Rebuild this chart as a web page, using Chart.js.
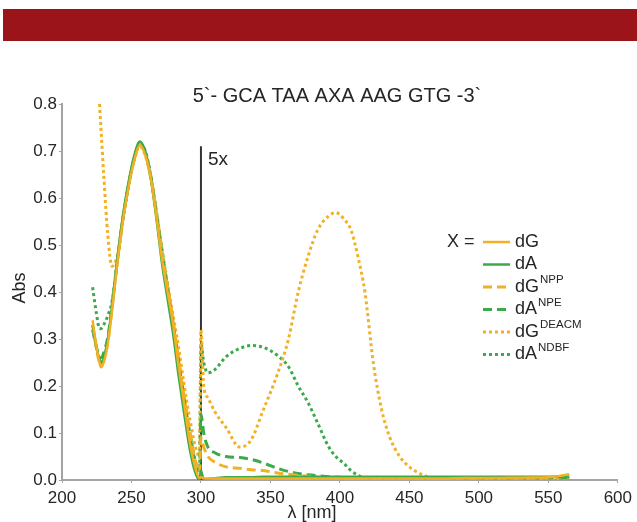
<!DOCTYPE html>
<html lang="en">
<head>
<meta charset="UTF-8">
<script src="https://cdn.jsdelivr.net/npm/chart.js@4.4.1/dist/chart.umd.min.js"></script>
<title>Abs spectra</title>
<style>
  html, body { margin: 0; padding: 0; background: #fff; }
  #band { position: absolute; left: 3px; top: 9px; width: 634px; height: 32px; background: #9b141a; }
  #wrap { position: absolute; left: 0; top: 0; width: 637px; height: 522px; }
</style>
</head>
<body>
<div id="band"></div>
<div id="wrap"><canvas id="myChart" width="637" height="522"></canvas></div>

<script>
// wavelengths (nm); values past 300 nm are shown 5x enlarged, as in the original
const wavelength = [222, 225, 227, 228, 230, 233, 236, 240,
  244, 248, 252, 256, 260, 264, 268, 272,
  276, 280, 284, 288, 292, 296, 299,
  300, 302, 305, 310, 318, 328, 336,
  345, 355, 363, 370, 377, 384, 392, 397,
  403, 408, 413, 418, 424, 430, 436, 443,
  450, 458, 466, 475, 490, 510, 530, 550, 565];

const absDG = [0.34, 0.28, 0.25, 0.24, 0.25, 0.29, 0.36, 0.465,
  0.555, 0.625, 0.68, 0.712, 0.69, 0.64, 0.56, 0.47,
  0.40, 0.33, 0.24, 0.16, 0.08, 0.025, 0.004,
  0.006, 0.004, 0.003, 0.003, 0.003, 0.003, 0.003,
  0.003, 0.003, 0.003, 0.003, 0.003, 0.003, 0.003, 0.003,
  0.003, 0.003, 0.003, 0.003, 0.003, 0.003, 0.003, 0.003,
  0.003, 0.003, 0.003, 0.003, 0.004, 0.004, 0.005, 0.006, 0.012];

const absDA = [0.33, 0.28, 0.257, 0.25, 0.26, 0.30, 0.37, 0.475,
  0.565, 0.635, 0.69, 0.72, 0.698, 0.64, 0.555, 0.46,
  0.385, 0.31, 0.22, 0.14, 0.065, 0.015, 0.0,
  0.02, 0.0, 0.002, 0.004, 0.006, 0.006, 0.006,
  0.007, 0.007, 0.007, 0.007, 0.007, 0.007, 0.007, 0.007,
  0.007, 0.007, 0.007, 0.007, 0.007, 0.007, 0.007, 0.007,
  0.007, 0.007, 0.007, 0.007, 0.007, 0.007, 0.007, 0.007, 0.007];

const absDGnpp = [0.33, 0.275, 0.25, 0.245, 0.255, 0.295, 0.365, 0.47,
  0.56, 0.63, 0.685, 0.715, 0.695, 0.645, 0.565, 0.48,
  0.41, 0.34, 0.255, 0.175, 0.1, 0.04, 0.015,
  0.09, 0.07, 0.05, 0.038, 0.028, 0.025, 0.022,
  0.02, 0.015, 0.012, 0.01, 0.008, 0.006, 0.005, 0.004,
  0.004, 0.004, 0.004, 0.004, 0.004, 0.004, 0.004, 0.004,
  0.004, 0.004, 0.004, 0.004, 0.004, 0.004, 0.004, 0.005, 0.008];

const absDAnpe = [0.32, 0.28, 0.262, 0.26, 0.27, 0.305, 0.37, 0.47,
  0.56, 0.63, 0.685, 0.715, 0.695, 0.645, 0.565, 0.48,
  0.405, 0.33, 0.25, 0.17, 0.095, 0.035, 0.012,
  0.14, 0.1, 0.07, 0.058, 0.05, 0.048, 0.044,
  0.036, 0.025, 0.018, 0.014, 0.011, 0.009, 0.007, 0.006,
  0.005, 0.005, 0.005, 0.005, 0.005, 0.005, 0.005, 0.005,
  0.005, 0.005, 0.005, 0.005, 0.005, 0.005, 0.005, 0.005, 0.005];

const absDGdeacm = [null, null, 0.8, 0.75, 0.65, 0.52, 0.455, 0.48,
  0.56, 0.63, 0.68, 0.71, 0.69, 0.64, 0.57, 0.49,
  0.42, 0.35, 0.28, 0.2, 0.13, 0.07, 0.05,
  0.32, 0.2, 0.175, 0.145, 0.112, 0.07, 0.085,
  0.15, 0.225, 0.3, 0.4, 0.475, 0.532, 0.562, 0.569,
  0.555, 0.532, 0.475, 0.40, 0.25, 0.15, 0.09, 0.05,
  0.028, 0.013, 0.005, 0.002, 0.002, 0.002, 0.002, 0.002, 0.002];

const absDAndbf = [0.41, 0.35, 0.322, 0.322, 0.33, 0.35, 0.38, 0.47,
  0.555, 0.625, 0.685, 0.715, 0.7, 0.645, 0.57, 0.49,
  0.41, 0.33, 0.25, 0.17, 0.1, 0.04, 0.02,
  0.29, 0.25, 0.228, 0.235, 0.262, 0.28, 0.286,
  0.282, 0.265, 0.241, 0.2, 0.165, 0.121, 0.07, 0.05,
  0.035, 0.02, 0.01, 0.004, 0.003, 0.003, 0.003, 0.003,
  0.003, 0.003, 0.003, 0.003, 0.003, 0.003, 0.003, 0.003, 0.003];

// 5x marker line
const markerX = [300, 300];
const markerY = [0, 0.71];

const xTicks = [200, 250, 300, 350, 400, 450, 500, 550, 600];
const yTicks = [0, 0.1, 0.2, 0.3, 0.4, 0.5, 0.6, 0.7, 0.8];

const legendNames = [['dG', ''], ['dA', ''], ['dG', 'NPP'], ['dA', 'NPE'], ['dG', 'DEACM'], ['dA', 'NDBF']];

const ORANGE = '#f2b125';
const GREEN = '#3aaa4a';
const FONT = '"Liberation Sans", Arial, sans-serif';
const TXT = '#262626';

const styles = [
    { color: ORANGE, dash: [], width: 2.5 },
    { color: GREEN, dash: [], width: 2.5 },
    { color: ORANGE, dash: [9, 5], width: 3 },
    { color: GREEN, dash: [9, 5], width: 3 },
    { color: ORANGE, dash: [3, 3], width: 3 },
    { color: GREEN, dash: [3, 3], width: 3 }
];
const series = [absDG, absDA, absDGnpp, absDAnpe, absDGdeacm, absDAndbf];

const pts = (xs, ys) => xs.map((x, i) => ({ x: x, y: ys[i] }));

const datasets = series.map((arr, i) => ({
    label: legendNames[i].join(''),
    data: pts(wavelength, arr),
    borderColor: styles[i].color,
    borderWidth: styles[i].width,
    borderDash: styles[i].dash,
    borderCapStyle: 'butt',
    cubicInterpolationMode: 'monotone',
    pointRadius: 0,
    fill: false
}));
datasets.push({
    label: 'marker',
    data: pts(markerX, markerY),
    borderColor: '#333',
    borderWidth: 2,
    pointRadius: 0,
    fill: false
});

const extras = {
    id: 'extras',
    afterDraw(chart) {
        const ctx = chart.ctx;
        const xs = chart.scales.x, ys = chart.scales.y;
        ctx.save();
        ctx.fillStyle = TXT;
        ctx.textBaseline = 'middle';

        // title
        ctx.font = '20px ' + FONT;
        ctx.textAlign = 'center';
        ctx.fillText('5`- GCA TAA AXA AAG GTG -3`', 337, 96);

        // 5x label
        ctx.font = '19px ' + FONT;
        ctx.textAlign = 'left';
        ctx.fillText('5x', xs.getPixelForValue(300) + 7, ys.getPixelForValue(0.682));

        // axis titles
        ctx.font = '18px ' + FONT;
        ctx.textAlign = 'center';
        ctx.fillText('λ [nm]', 312, 513);
        ctx.save();
        ctx.translate(20, 288);
        ctx.rotate(-Math.PI / 2);
        ctx.fillText('Abs', 0, 0);
        ctx.restore();

        // legend
        ctx.font = '18px ' + FONT;
        ctx.textAlign = 'left';
        ctx.fillText('X =', 447, 242);
        legendNames.forEach((n, i) => {
            const y = 242 + i * 22.5;
            ctx.beginPath();
            ctx.strokeStyle = styles[i].color;
            ctx.lineWidth = styles[i].width;
            ctx.setLineDash(styles[i].dash);
            ctx.moveTo(483, y);
            ctx.lineTo(510, y);
            ctx.stroke();
            ctx.setLineDash([]);
            ctx.font = '18px ' + FONT;
            ctx.fillText(n[0], 515, y);
            if (n[1]) {
                const w = ctx.measureText(n[0]).width;
                ctx.font = '11.5px ' + FONT;
                ctx.fillText(n[1], 515 + w + 1, y - 7);
            }
        });
        ctx.restore();
    }
};

var ctx = document.getElementById('myChart').getContext('2d');
var chart = new Chart(ctx, {
    type: 'line',
    data: { datasets: datasets },
    options: {
        responsive: false,
        animation: false,
        layout: { padding: { top: 104, right: 15, left: 0, bottom: 0 } },
        plugins: { legend: { display: false }, title: { display: false }, tooltip: { enabled: false } },
        scales: {
            x: {
                type: 'linear',
                min: 200, max: 600,
                afterFit: (s) => { s.height = 42; },
                afterBuildTicks: (s) => { s.ticks = xTicks.map(v => ({ value: v })); },
                grid: { display: true, drawOnChartArea: false, tickLength: 3, color: '#a3a3a3' },
                border: { color: '#a3a3a3', width: 2 },
                ticks: { color: TXT, padding: 5, maxRotation: 0, font: { family: FONT, size: 17 } }
            },
            y: {
                type: 'linear',
                min: 0, max: 0.8,
                afterFit: (s) => { s.width = 62; },
                afterBuildTicks: (s) => { s.ticks = yTicks.map(v => ({ value: v })); },
                grid: { display: true, drawOnChartArea: false, tickLength: 3, color: '#a3a3a3' },
                border: { color: '#a3a3a3', width: 2 },
                ticks: { color: TXT, padding: 2, font: { family: FONT, size: 17 },
                    callback: (v) => Number(v).toFixed(1) }
            }
        }
    },
    plugins: [extras]
});
</script>
</body>
</html>
